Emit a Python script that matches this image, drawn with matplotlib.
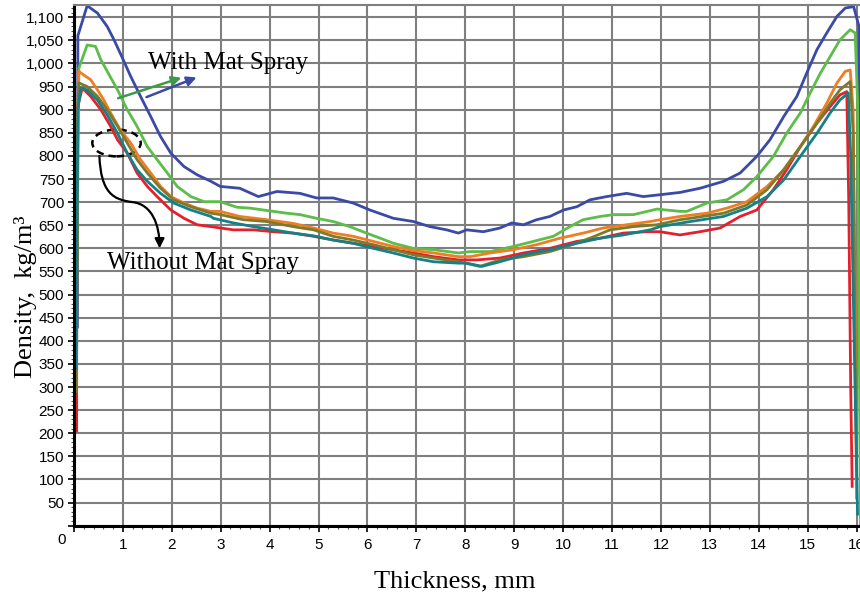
import matplotlib
matplotlib.use("Agg")
import matplotlib.pyplot as plt
from matplotlib.patches import Ellipse, FancyArrowPatch
from matplotlib.path import Path
from matplotlib.ticker import MultipleLocator, FuncFormatter

# density profiles, thickness in mm, density in kg/m3
blue_t = [0.07, 0.08, 0.27, 0.48, 0.68, 0.82, 0.99, 1.16, 1.36, 1.57, 1.77, 1.98, 2.25, 2.52,
          2.80, 2.99, 3.39, 3.77, 4.15, 4.62, 4.96, 5.30, 5.71, 6.05, 6.53, 6.94, 7.28, 7.62,
          7.86, 8.03, 8.37, 8.71, 8.95, 9.19, 9.46, 9.73, 10.01, 10.28, 10.55, 10.89, 11.30,
          11.64, 11.98, 12.39, 12.80, 13.28, 13.62, 13.96, 14.23, 14.51, 14.78, 14.98, 15.19,
          15.39, 15.60, 15.77, 15.94, 16.05, 16.10]
blue_d = [430, 1060, 1125, 1109, 1080, 1051, 1012, 972, 929, 885, 842, 806, 777, 759,
          745, 734, 730, 712, 723, 719, 709, 709, 698, 683, 665, 658, 647, 640,
          633, 640, 636, 644, 655, 651, 662, 669, 683, 690, 705, 712, 719,
          712, 716, 721, 730, 745, 763, 799, 835, 885, 929, 979, 1030,
          1066, 1102, 1120, 1123, 1080, 0]

green_t = [0.06, 0.10, 0.27, 0.44, 0.55, 0.68, 0.89, 1.09, 1.29, 1.50, 1.70, 1.91, 2.11, 2.39,
           2.66, 2.99, 3.33, 3.60, 3.94, 4.35, 4.62, 4.96, 5.30, 5.64, 5.98, 6.26, 6.53, 6.94,
           7.35, 7.86, 8.10, 8.51, 8.98, 9.39, 9.80, 10.14, 10.41, 10.76, 11.03, 11.44, 11.92,
           12.39, 12.53, 12.94, 13.35, 13.69, 13.96, 14.30, 14.57, 14.85, 15.05, 15.26, 15.46,
           15.66, 15.87, 15.97, 16.02, 16.08]
green_d = [560, 990, 1040, 1037, 1008, 983, 943, 900, 864, 820, 792, 763, 734, 712,
           701, 701, 689, 687, 682, 676, 673, 665, 658, 647, 633, 622, 611, 600,
           597, 590, 593, 593, 604, 615, 626, 647, 662, 669, 673, 673, 685,
           680, 680, 698, 705, 727, 755, 799, 849, 893, 936, 979, 1015,
           1051, 1073, 1066, 920, 0]

red_t = [0.055, 0.06, 0.17, 0.34, 0.55, 0.75, 0.89, 1.09, 1.29, 1.50, 1.70, 1.98, 2.25, 2.52,
         2.80, 3.26, 3.67, 4.08, 4.48, 4.90, 5.30, 5.71, 6.12, 6.53, 6.94, 7.35, 7.86, 8.24,
         8.71, 9.19, 9.73, 10.28, 10.76, 11.23, 11.71, 11.98, 12.39, 12.80, 13.21, 13.62, 13.96,
         14.30, 14.57, 14.85, 15.19, 15.46, 15.66, 15.80, 15.84, 15.88, 15.91]
red_d = [205, 900, 947, 929, 900, 864, 835, 806, 763, 734, 712, 683, 665, 651,
         647, 640, 640, 636, 633, 626, 618, 611, 604, 597, 590, 582, 575, 575,
         579, 590, 600, 615, 622, 633, 636, 636, 629, 636, 644, 669, 683,
         727, 770, 820, 871, 907, 932, 939, 700, 300, 85]

orange_t = [0.04, 0.08, 0.10, 0.20, 0.34, 0.48, 0.61, 0.75, 0.95, 1.16, 1.36, 1.57, 1.77, 1.98,
            2.25, 2.52, 2.80, 2.99, 3.39, 3.94, 4.48, 4.90, 5.30, 5.71, 6.12, 6.53, 6.94, 7.35,
            7.86, 8.10, 8.51, 8.98, 9.46, 9.94, 10.41, 10.82, 11.30, 11.78, 11.98, 12.39, 12.94,
            13.35, 13.76, 14.17, 14.51, 14.85, 15.12, 15.39, 15.60, 15.77, 15.87, 15.93, 15.98,
            16.00]
orange_d = [300, 900, 983, 975, 965, 943, 921, 893, 856, 828, 792, 763, 734, 712,
            698, 687, 680, 680, 669, 662, 654, 644, 633, 626, 615, 604, 595, 590,
            582, 582, 590, 597, 608, 622, 633, 644, 651, 658, 662, 669, 676,
            687, 701, 734, 770, 820, 864, 914, 958, 983, 986, 900, 400,
            60]

olive_t = [0.05, 0.08, 0.10, 0.27, 0.48, 0.68, 0.89, 1.09, 1.29, 1.50, 1.77, 2.04, 2.39, 2.80,
           2.99, 3.46, 3.94, 4.48, 4.90, 5.30, 5.71, 6.12, 6.53, 6.94, 7.35, 7.86, 8.30, 8.71,
           9.19, 9.73, 10.07, 10.55, 10.96, 11.44, 11.92, 12.39, 12.60, 13.28, 13.76, 14.17,
           14.51, 14.85, 15.19, 15.46, 15.66, 15.87, 15.93, 15.97, 16.00]
olive_d = [290, 900, 958, 950, 929, 900, 864, 828, 792, 763, 730, 705, 690, 676,
           673, 662, 658, 647, 640, 626, 618, 608, 597, 586, 579, 571, 561, 575,
           582, 593, 604, 622, 640, 647, 651, 662, 665, 676, 694, 727,
           770, 820, 871, 914, 943, 961, 850, 400, 120]

teal_t = [0.04, 0.08, 0.14, 0.27, 0.48, 0.68, 0.89, 1.09, 1.29, 1.50, 1.77, 2.04, 2.39, 2.80,
          2.85, 3.26, 3.67, 4.08, 4.48, 4.90, 5.30, 5.71, 6.12, 6.53, 6.94, 7.35, 7.86, 8.03,
          8.34, 8.71, 9.19, 9.73, 10.28, 10.76, 11.23, 11.78, 11.98, 12.60, 13.28, 13.76, 14.17,
          14.51, 14.85, 15.19, 15.46, 15.66, 15.83, 15.88, 15.95, 16.02]
teal_d = [340, 900, 947, 943, 921, 889, 849, 806, 770, 745, 719, 698, 683, 669,
          665, 655, 647, 640, 633, 627, 618, 611, 600, 590, 579, 571, 568, 568,
          561, 571, 586, 597, 611, 622, 629, 640, 647, 658, 669, 687, 712,
          748, 799, 849, 893, 921, 936, 800, 400, 25]

series = [
    (blue_t, blue_d, '#3a4aa6'),
    (green_t, green_d, '#5cbd48'),
    (red_t, red_d, '#e5202b'),
    (orange_t, orange_d, '#f07d22'),
    (olive_t, olive_d, '#7d7a2c'),
    (teal_t, teal_d, '#148088'),
]

fig = plt.figure(figsize=(8.6, 5.96), dpi=100)
ax = fig.add_axes([0.086, 0.118, 0.914, 0.874])

for t, d, c in series:
    ax.plot(t, d, color=c, lw=2.0, solid_joinstyle='round')

ax.set_xlim(0, 16.07)
ax.set_ylim(0, 1127)

ax.xaxis.set_major_locator(MultipleLocator(1))
ax.xaxis.set_minor_locator(MultipleLocator(0.2))
ax.yaxis.set_major_locator(MultipleLocator(50))
ax.yaxis.set_minor_locator(MultipleLocator(10))
ax.grid(True, which='major', color='#7f7f7f', lw=1.5)
ax.set_axisbelow(True)

ax.xaxis.set_major_formatter(FuncFormatter(lambda v, p: '' if v == 0 else '%d' % v))
ax.yaxis.set_major_formatter(FuncFormatter(lambda v, p: '' if v == 0 else '{:,.0f}'.format(v)))
ax.tick_params(which='major', direction='out', length=4, width=1.2, labelsize=11,
               pad=3, colors='black')
ax.tick_params(which='minor', direction='out', length=2.5, width=0.8, color='#555555')
for lab in ax.get_xticklabels() + ax.get_yticklabels():
    lab.set_family('Liberation Sans')
ax.tick_params(axis='x', which='major', pad=5)

ax.spines['left'].set_linewidth(2.2)
ax.spines['bottom'].set_linewidth(2.2)
ax.spines['top'].set_color('#7f7f7f')
ax.spines['top'].set_linewidth(1.5)
ax.spines['right'].set_visible(False)

ax.annotate('0', xy=(0, 0), xycoords='axes fraction', xytext=(-8.6, -10.3),
            textcoords='offset points', ha='center', va='center', fontsize=11,
            family='Liberation Sans')

serif = 'Liberation Serif'
fig.text(455 / 860, 1 - 581 / 596, 'Thickness, mm', family=serif, fontsize=19,
         ha='center', va='center')
fig.text(26 / 860, 1 - 297 / 596, 'Density,  kg/m³', family=serif, fontsize=19,
         ha='center', va='center', rotation=90)

# annotations
ax.text(1.51, 1001, 'With Mat Spray', family=serif, fontsize=18, va='center', ha='left')
ax.annotate('', xy=(2.25, 971), xytext=(0.85, 923),
            arrowprops=dict(arrowstyle='-|>', color='#3e9a4a', lw=1.8, mutation_scale=14))
ax.annotate('', xy=(2.56, 972), xytext=(1.43, 925),
            arrowprops=dict(arrowstyle='-|>', color='#3a4aa6', lw=1.8, mutation_scale=14))

ax.text(0.67, 569, 'Without Mat Spray', family=serif, fontsize=18, va='center', ha='left')
ax.add_patch(Ellipse((0.87, 828), 0.99, 58, fill=False, ls=(0, (3, 2)), lw=1.8,
                     color='black'))
curve = Path([(0.52, 800), (0.55, 720), (0.8, 705), (1.2, 700),
              (1.6, 695), (1.75, 650), (1.75, 600)],
             [Path.MOVETO, Path.CURVE4, Path.CURVE4, Path.CURVE4,
              Path.CURVE4, Path.CURVE4, Path.CURVE4])
ax.add_patch(FancyArrowPatch(path=curve, arrowstyle='-|>', mutation_scale=14,
                             color='black', lw=1.6))

fig.savefig('out.png', dpi=100)
